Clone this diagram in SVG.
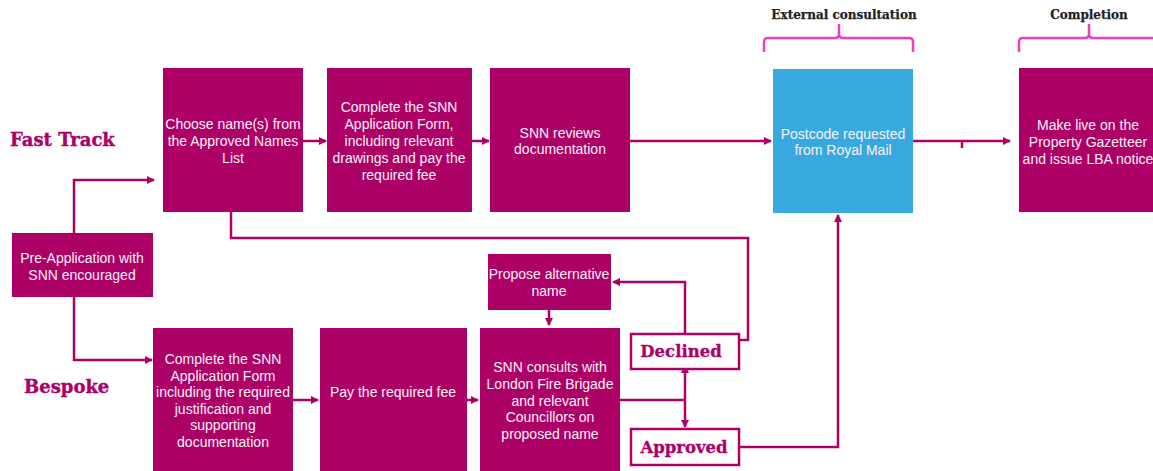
<svg xmlns="http://www.w3.org/2000/svg" width="1153" height="471" viewBox="0 0 1153 471">
<defs>
<marker id="ah" markerWidth="8" markerHeight="8" refX="7" refY="4" orient="auto" markerUnits="userSpaceOnUse">
<path d="M0,0 L8,4 L0,8 Z" fill="#AD0066"/>
</marker>
<marker id="ahs" markerWidth="8" markerHeight="8" refX="1" refY="4" orient="auto-start-reverse" markerUnits="userSpaceOnUse">
<path d="M0,0 L8,4 L0,8 Z" fill="#AD0066"/>
</marker>
</defs>
<style>
.box{fill:#AD0066}
.blue{fill:#38A9DF}
.t{font-family:"Liberation Sans",Arial,sans-serif;font-size:14px;fill:#FDF0F8;text-anchor:middle}
.lane{font-family:"DejaVu Serif","Liberation Serif",serif;font-weight:bold;font-size:18px;fill:#AD0066;stroke:#AD0066;stroke-width:0.4}
.hdr{font-family:"DejaVu Serif","Liberation Serif",serif;font-weight:bold;font-size:12px;fill:#222222;text-anchor:middle;stroke:#222222;stroke-width:0.25}
.ob{fill:#FFFFFF;stroke:#AD0066;stroke-width:2.5}
.ot{font-family:"DejaVu Serif","Liberation Serif",serif;font-weight:bold;font-size:16.5px;fill:#AD0066;text-anchor:middle;stroke:#AD0066;stroke-width:0.3}
.c{fill:none;stroke:#AD0066;stroke-width:2.5}
.br{fill:none;stroke:#F23DB8;stroke-width:2.5}
</style>
<rect width="1153" height="471" fill="#FFFFFF"/>

<g id="labels">
<text class="lane" x="10" y="146">Fast Track</text>
<text class="lane" x="24" y="393">Bespoke</text>
<text class="hdr" x="844" y="19">External consultation</text>
<text class="hdr" x="1089" y="19">Completion</text>
<path class="br" d="M764,52 V42 Q764,38 768,38 H835 Q839,38 839,34 V24 M839,24 V34 Q839,38 843,38 H909 Q913,38 913,42 V52"/>
<path class="br" d="M1019,52 V42 Q1019,38 1023,38 H1085 Q1089,38 1089,34 V24 M1089,24 V34 Q1089,38 1093,38 H1160"/>
</g>

<g id="connectors">
<path class="c" d="M74,233 V180 H154" marker-end="url(#ah)"/>
<path class="c" d="M74,297 V360 H152" marker-end="url(#ah)"/>
<path class="c" d="M303,141 H326" marker-end="url(#ah)"/>
<path class="c" d="M472,141 H489" marker-end="url(#ah)"/>
<path class="c" d="M630,141 H771" marker-end="url(#ah)"/>
<path class="c" d="M913,141 H1010" marker-end="url(#ah)"/>
<path class="c" d="M962,141 V148"/>
<path class="c" d="M231,212 V238 H748 V340 H739"/>
<path class="c" d="M685,333 V282 H613" marker-end="url(#ah)"/>
<path class="c" d="M549,310 V325" marker-end="url(#ah)"/>
<path class="c" d="M293,400 H318" marker-end="url(#ah)"/>
<path class="c" d="M467,400 H478" marker-end="url(#ah)"/>
<path class="c" d="M620,400 H685"/>
<path class="c" d="M685,372 V427" marker-start="url(#ahs)" marker-end="url(#ah)"/>
<path class="c" d="M739,447 H838 V215" marker-end="url(#ah)"/>
</g>

<g id="n-choose">
<rect class="box" x="163" y="68" width="140" height="144"/>
<text class="t" y="129"><tspan x="233">Choose name(s) from</tspan><tspan x="233" dy="17">the Approved Names</tspan><tspan x="233" dy="17">List</tspan></text>
</g>
<g id="n-complete-fast">
<rect class="box" x="327" y="68" width="145" height="144"/>
<text class="t" y="112"><tspan x="399">Complete the SNN</tspan><tspan x="399" dy="17">Application Form,</tspan><tspan x="399" dy="17">including relevant</tspan><tspan x="399" dy="17">drawings and pay the</tspan><tspan x="399" dy="17">required fee</tspan></text>
</g>
<g id="n-reviews">
<rect class="box" x="490" y="68" width="140" height="144"/>
<text class="t" y="138"><tspan x="560">SNN reviews</tspan><tspan x="560" dy="16">documentation</tspan></text>
</g>
<g id="n-postcode">
<rect class="blue" x="773" y="69" width="140" height="144"/>
<text class="t" y="139"><tspan x="843">Postcode requested</tspan><tspan x="843" dy="16">from Royal Mail</tspan></text>
</g>
<g id="n-live">
<rect class="box" x="1019" y="68" width="140" height="144"/>
<text class="t" y="130"><tspan x="1088">Make live on the</tspan><tspan x="1088" dy="17">Property Gazetteer</tspan><tspan x="1088" dy="17">and issue LBA notice</tspan></text>
</g>
<g id="n-preapp">
<rect class="box" x="12" y="233" width="141" height="64"/>
<text class="t" y="263"><tspan x="82">Pre-Application with</tspan><tspan x="82" dy="17">SNN encouraged</tspan></text>
</g>
<g id="n-complete-bespoke">
<rect class="box" x="153" y="328" width="140" height="150"/>
<text class="t" y="364"><tspan x="223">Complete the SNN</tspan><tspan x="223" dy="16.6">Application Form</tspan><tspan x="223" dy="16.6">including the required</tspan><tspan x="223" dy="16.6">justification and</tspan><tspan x="223" dy="16.6">supporting</tspan><tspan x="223" dy="16.6">documentation</tspan></text>
</g>
<g id="n-pay">
<rect class="box" x="320" y="328" width="147" height="150"/>
<text class="t" x="393" y="397">Pay the required fee</text>
</g>
<g id="n-consults">
<rect class="box" x="480" y="328" width="140" height="150"/>
<text class="t" y="372"><tspan x="550">SNN consults with</tspan><tspan x="550" dy="16.8">London Fire Brigade</tspan><tspan x="550" dy="16.8">and relevant</tspan><tspan x="550" dy="16.8">Councillors on</tspan><tspan x="550" dy="16.8">proposed name</tspan></text>
</g>
<g id="n-propose">
<rect class="box" x="488" y="254" width="123" height="56"/>
<text class="t" y="279"><tspan x="549">Propose alternative</tspan><tspan x="549" dy="17">name</tspan></text>
</g>
<g id="n-declined">
<rect class="ob" x="631" y="334" width="108" height="35"/>
<text class="ot" x="681" y="357">Declined</text>
</g>
<g id="n-approved">
<rect class="ob" x="631" y="429" width="108" height="36"/>
<text class="ot" x="684" y="453">Approved</text>
</g>
</svg>
